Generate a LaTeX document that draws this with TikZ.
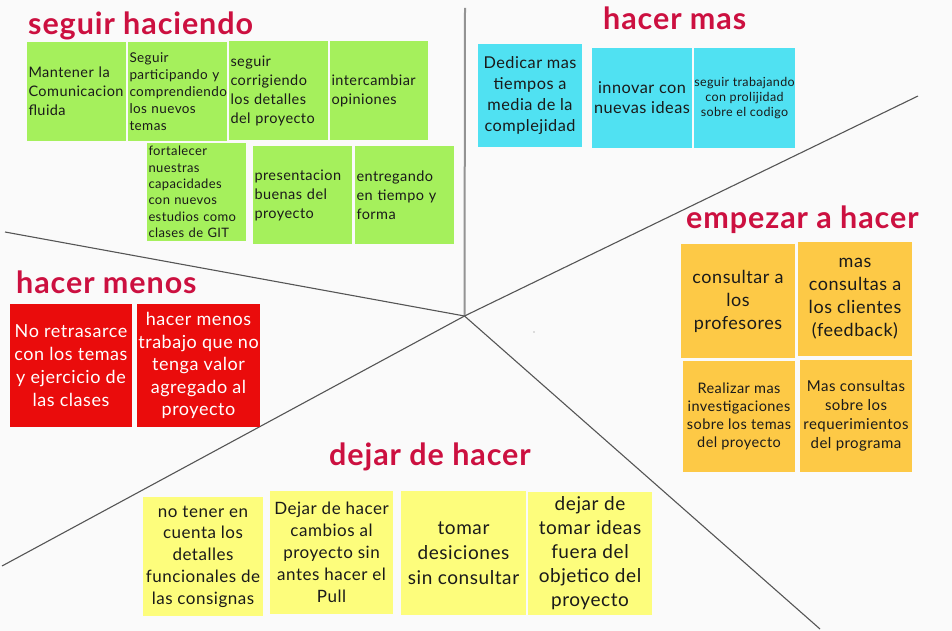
\documentclass[tikz,border=0pt]{standalone}
\usepackage{fontspec}
\setmainfont{Lato}[LetterSpace=3]
\definecolor{bg}{HTML}{FAFAFA}
\definecolor{gnote}{HTML}{A5F05C}
\definecolor{bnote}{HTML}{50E1F2}
\definecolor{onote}{HTML}{FDC946}
\definecolor{rnote}{HTML}{EA0C0C}
\definecolor{ynote}{HTML}{FDFD7C}
\definecolor{ttl}{HTML}{CC1040}
\definecolor{ink}{HTML}{1A1A1A}
\definecolor{lin}{HTML}{555555}
\begin{document}
\begin{tikzpicture}[x=1pt,y=-1pt,
  box/.style n args={2}{minimum width=#1, minimum height=#2, inner sep=0pt, outer sep=0pt},
  ft/.style n args={2}{font=\fontsize{#1}{#2}\selectfont},
  gr/.style={fill=gnote, text=ink, align=left},
  bl/.style={fill=bnote, text=ink, align=center},
  og/.style={fill=onote, text=ink, align=center},
  rd/.style={fill=rnote, text=white, align=center},
  yl/.style={fill=ynote, text=ink, align=center},
  title/.style={anchor=base west, inner sep=0pt, text=ttl, font=\fontsize{30.5}{30}\bfseries\selectfont},
  divline/.style={draw=lin, line width=1.1pt},
  vline/.style={draw=gray!85, line width=2pt}]
\useasboundingbox (0,0) rectangle (952,631);
\fill[bg] (0,0) rectangle (952,631);

% dividing lines
\coordinate (c) at (464.5,316);
\coordinate (top) at (465,8);
\coordinate (tl) at (5,232);
\coordinate (tr) at (918,96);
\coordinate (bl) at (2,566);
\coordinate (br) at (820,629);
\draw[vline] (c) -- (top);
\draw[divline] (c) -- (tl);
\draw[divline] (c) -- (tr);
\draw[divline] (c) -- (bl);
\draw[divline] (c) -- (br);
\fill[gray!50] (534,332) circle (0.8pt);

% titles
\node[title] (t1) at (28,35) {seguir haciendo};
\node[title] (t2) at (603,30) {hacer mas};
\node[title] (t3) at (686,228) {empezar a hacer};
\node[title] (t4) at (16,293) {hacer menos};
\node[title] (t5) at (329,465) {dejar de hacer};

% green
\node[gr, box={99}{99}, text width=96, ft={14.5}{19}] (g1) at (76.5,91.5) {Mantener la\\Comunicacion\\fluida};
\node[gr, box={99}{99}, text width=96, ft={13.5}{17}] (g2) at (177.5,91.5) {Seguir\\participando y\\comprendiendo\\los nuevos\\temas};
\node[gr, box={99}{99}, text width=96, ft={14.5}{19}] (g3) at (278.5,90.5) {seguir\\corrigiendo\\los detalles\\del proyecto};
\node[gr, box={98}{99}, text width=95, ft={14.5}{19}] (g4) at (379,90.5) {intercambiar\\opiniones};
\node[gr, box={99}{98}, text width=96, ft={13}{16.3}] (g5) at (196.5,192) {fortalecer\\nuestras\\capacidades\\con nuevos\\estudios como\\clases de GIT};
\node[gr, box={99}{98}, text width=96, ft={14.5}{19}] (g6) at (302.5,195) {presentacion\\buenas del\\proyecto};
\node[gr, box={99}{98}, text width=96, ft={14.5}{19}] (g7) at (404.5,195) {entregando\\en tiempo y\\forma};

% blue
\node[bl, box={104}{103}, ft={16.3}{21}] (b1) at (530,95.5) {Dedicar mas\\tiempos a\\media de la\\complejidad};
\node[bl, box={100}{100}, ft={16.3}{20}] (b2) at (642,98) {innovar con\\nuevas ideas};
\node[bl, box={101}{100}, ft={12.5}{15}] (b3) at (744.5,98) {seguir trabajando\\con prolijidad\\sobre el codigo};

% orange
\node[og, box={114}{114}, ft={18}{23}] (o1) at (738,301) {consultar a\\los\\profesores};
\node[og, box={114}{114}, ft={18}{23}] (o2) at (855,299) {mas\\consultas a\\los clientes\\(feedback)};
\node[og, box={112}{111}, ft={14.5}{18}] (o3) at (739,416.5) {Realizar mas\\investigaciones\\sobre los temas\\del proyecto};
\node[og, box={112}{112}, ft={15}{19}] (o4) at (856,416) {Mas consultas\\sobre los\\requerimientos\\del programa};

% red
\node[rd, box={122}{123}, ft={18}{23}] (r1) at (71,365.5) {No retrasarce\\con los temas\\y ejercicio de\\las clases};
\node[rd, box={123}{123}, ft={18}{22.5}] (r2) at (198.5,365.5) {hacer menos\\trabajo que no\\tenga valor\\agregado al\\proyecto};

% yellow
\node[yl, box={120}{119}, ft={17}{21.7}] (y1) at (203,556.5) {no tener en\\cuenta los\\detalles\\funcionales de\\las consignas};
\node[yl, box={123}{123}, ft={17}{22}] (y2) at (331.5,552.5) {Dejar de hacer\\cambios al\\proyecto sin\\antes hacer el\\Pull};
\node[yl, box={125}{124}, ft={19}{25}] (y3) at (463.5,553) {tomar\\desiciones\\sin consultar};
\node[yl, box={124}{123}, ft={19}{24}] (y4) at (590,553.5) {dejar de\\tomar ideas\\fuera del\\objetico del\\proyecto};
\end{tikzpicture}
\end{document}
